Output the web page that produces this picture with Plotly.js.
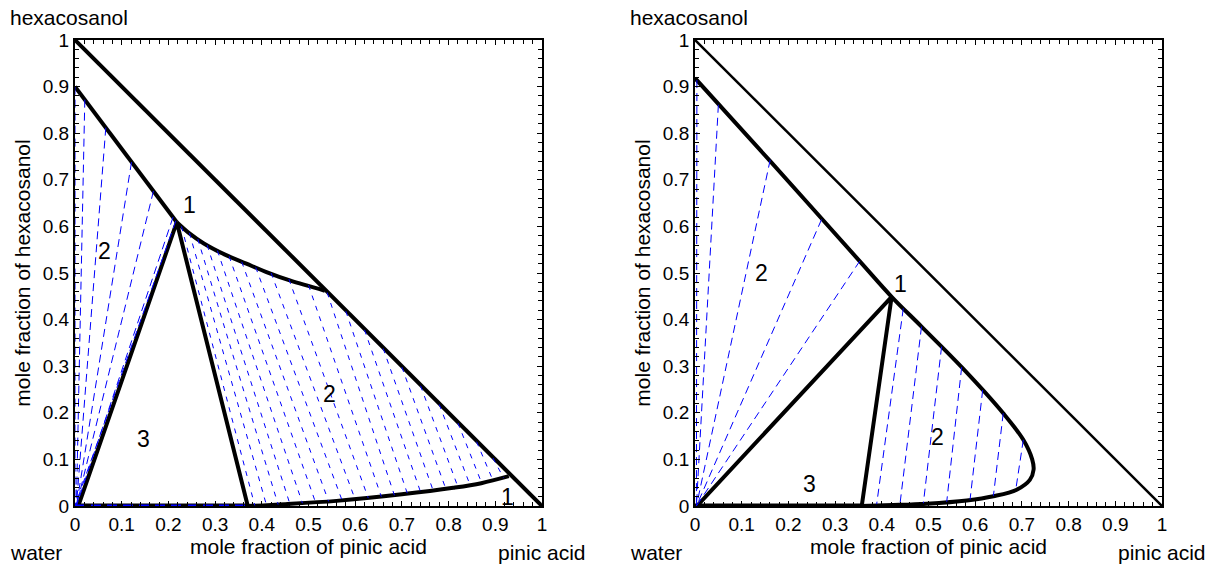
<!DOCTYPE html>
<html>
<head>
<meta charset="utf-8">
<script src="https://cdn.plot.ly/plotly-3.0.1.min.js"></script>
<style>html,body{margin:0;padding:0;background:#fff;}#chart{width:1215px;height:565px;}</style>
</head>
<body>
<div id="chart"></div>
<script>
// ---------------- data: left diagram ----------------
const L_hypX = [0, 1];
const L_hypY = [1, 0];
const L_upperBranchX = [0.0, 0.066, 0.121, 0.168, 0.218];
const L_upperBranchY = [0.900, 0.812, 0.738, 0.676, 0.609];
const L_topCurveX = [0.218, 0.245, 0.275, 0.320, 0.367, 0.410, 0.460, 0.535];
const L_topCurveY = [0.609, 0.585, 0.564, 0.540, 0.520, 0.502, 0.484, 0.462];
const L_triangleX = [0.007, 0.218, 0.370];
const L_triangleY = [0.000, 0.609, 0.000];
const L_baseX = [0.0, 0.370];
const L_baseY = [0.0, 0.0];
const L_bottomCurveX = [0.370, 0.450, 0.560, 0.700, 0.810, 0.870, 0.929];
const L_bottomCurveY = [0.000, 0.004, 0.011, 0.025, 0.039, 0.049, 0.064];
// tie lines, left two-phase fan
const L_fanTopX = [0.000, 0.021, 0.066, 0.121, 0.168, 0.210, 0.216];
const L_fanTopY = [0.900, 0.872, 0.812, 0.738, 0.676, 0.620, 0.612];
const L_fanBotX = [0.000, 0.003, 0.003, 0.003, 0.003, 0.003, 0.000];
const L_fanBotY = [0.000, 0.000, 0.000, 0.000, 0.000, 0.000, 0.000];
// tie lines, right two-phase region
const L_tieTopX = [0.228,0.245,0.263,0.283,0.305,0.330,0.357,0.387,0.420,0.458,0.500,0.540,0.580,0.620,0.660,0.700,0.740,0.780,0.820,0.860,0.895];
const L_tieTopY = [0.600,0.586,0.573,0.560,0.548,0.536,0.524,0.512,0.500,0.487,0.474,0.458,0.418,0.378,0.338,0.298,0.258,0.218,0.178,0.138,0.103];
const L_tieBotX = [0.385,0.410,0.435,0.460,0.487,0.515,0.543,0.572,0.600,0.628,0.656,0.684,0.712,0.740,0.767,0.794,0.820,0.846,0.871,0.895,0.918];
const L_tieBotY = [0.001,0.002,0.003,0.005,0.006,0.008,0.010,0.012,0.014,0.017,0.020,0.023,0.026,0.030,0.033,0.037,0.041,0.045,0.049,0.055,0.060];
const L_labels = ['1', '2', '3', '2', '1'];
const L_labelX = [0.246, 0.064, 0.146, 0.546, 0.927];
const L_labelY = [0.645, 0.548, 0.144, 0.241, 0.019];

// ---------------- data: right diagram ----------------
const R_hypX = [0, 1];
const R_hypY = [1, 0];
const R_boundaryX = [0.000, 0.161, 0.353, 0.421, 0.485, 0.571, 0.660, 0.703, 0.722, 0.725, 0.717, 0.689, 0.639, 0.582, 0.496, 0.424, 0.355];
const R_boundaryY = [0.918, 0.740, 0.525, 0.449, 0.385, 0.298, 0.199, 0.142, 0.100, 0.078, 0.056, 0.035, 0.021, 0.012, 0.005, 0.002, 0.000];
const R_triangleX = [0.004, 0.421, 0.357];
const R_triangleY = [0.000, 0.449, 0.000];
const R_baseX = [0.0, 0.357];
const R_baseY = [0.0, 0.0];
const R_fanTopX = [0.004, 0.050, 0.161, 0.271, 0.353];
const R_fanTopY = [0.914, 0.861, 0.743, 0.615, 0.526];
const R_fanBotX = [0.003, 0.003, 0.003, 0.003, 0.003];
const R_fanBotY = [0.000, 0.000, 0.000, 0.000, 0.000];
const R_tieTopX = [0.446, 0.485, 0.528, 0.571, 0.616, 0.660, 0.703];
const R_tieTopY = [0.424, 0.385, 0.342, 0.298, 0.249, 0.199, 0.142];
const R_tieBotX = [0.389, 0.439, 0.489, 0.539, 0.589, 0.639, 0.687];
const R_tieBotY = [0.004, 0.005, 0.006, 0.009, 0.014, 0.022, 0.036];
const R_labels = ['1', '2', '3', '2'];
const R_labelX = [0.441, 0.143, 0.246, 0.520];
const R_labelY = [0.476, 0.500, 0.047, 0.148];

const xTitle = 'mole fraction of pinic acid';
const yTitle = 'mole fraction of hexacosanol';
const cornerTop = 'hexacosanol';
const cornerLeft = 'water';
const cornerRight = 'pinic acid';

// ---------------- helpers ----------------
const FONT = 'Liberation Sans, Arial, Helvetica, sans-serif';
function segs(x0, y0, x1, y1) {
  const xs = [], ys = [];
  for (let i = 0; i < x0.length; i++) {
    xs.push(x0[i], x1[i], null);
    ys.push(y0[i], y1[i], null);
  }
  return {x: xs, y: ys};
}
function line(x, y, w, ax, smooth) {
  const ln = {color: '#000', width: w};
  if (smooth) { ln.shape = 'spline'; ln.smoothing = smooth; }
  return {x: x, y: y, type: 'scatter', mode: 'lines', hoverinfo: 'skip',
    line: ln, xaxis: ax[0], yaxis: ax[1], showlegend: false};
}
function dashed(s, w, dash, ax) {
  return {x: s.x, y: s.y, type: 'scatter', mode: 'lines', hoverinfo: 'skip', connectgaps: false,
    line: {color: '#0000ff', width: w, dash: dash}, xaxis: ax[0], yaxis: ax[1], showlegend: false};
}
const A1 = ['x', 'y'], A2 = ['x2', 'y2'];

const traces = [
  // left
  line(L_hypX, L_hypY, 4, A1),
  line(L_upperBranchX, L_upperBranchY, 4, A1),
  line(L_topCurveX, L_topCurveY, 4, A1, 1),
  line(L_triangleX, L_triangleY, 4, A1),
  line(L_baseX, L_baseY, 5, A1),
  line(L_bottomCurveX, L_bottomCurveY, 4, A1, 1),
  dashed(segs(L_fanTopX, L_fanTopY, L_fanBotX, L_fanBotY), 1, '8px,5px', A1),
  dashed(segs(L_tieTopX, L_tieTopY, L_tieBotX, L_tieBotY), 1, '5px,6px', A1),
  dashed({x: L_baseX, y: L_baseY}, 3, '10px,6px', A1),
  // right
  line(R_hypX, R_hypY, 2.5, A2),
  line(R_boundaryX, R_boundaryY, 4, A2, 1),
  line(R_triangleX, R_triangleY, 4, A2),
  line(R_baseX, R_baseY, 5, A2),
  dashed(segs(R_fanTopX, R_fanTopY, R_fanBotX, R_fanBotY), 1, '8px,5px', A2),
  dashed(segs(R_tieTopX, R_tieTopY, R_tieBotX, R_tieBotY), 1, '8px,5px', A2)
];

function xax(domain, anchor) {
  return {domain: domain, anchor: anchor, range: [0, 1], dtick: 0.1, tick0: 0,
    ticks: 'inside', ticklen: 5, tickwidth: 1, tickcolor: '#000',
    minor: {dtick: 0.02, ticks: 'inside', ticklen: 4, tickwidth: 1, tickcolor: '#000'},
    showline: true, linecolor: '#000', linewidth: 2, mirror: 'ticks', showgrid: false, zeroline: false,
    tickfont: {family: FONT, size: 19, color: '#000'},
    title: {text: xTitle, font: {family: FONT, size: 21, color: '#000'}, standoff: 2}};
}
function yax(domain, anchor) {
  return {domain: domain, anchor: anchor, range: [0, 1], dtick: 0.1, tick0: 0,
    ticks: 'inside', ticklen: 5, tickwidth: 1, tickcolor: '#000',
    minor: {dtick: 0.02, ticks: 'inside', ticklen: 4, tickwidth: 1, tickcolor: '#000'},
    showline: true, linecolor: '#000', linewidth: 2, mirror: 'ticks', showgrid: false, zeroline: false,
    tickfont: {family: FONT, size: 19, color: '#000'},
    title: {text: yTitle, font: {family: FONT, size: 21, color: '#000'}, standoff: 6}};
}

const annotations = [];
function regionLabels(txt, xs, ys, xr, yr) {
  for (let i = 0; i < txt.length; i++) {
    annotations.push({text: txt[i], x: xs[i], y: ys[i], xref: xr, yref: yr, showarrow: false,
      font: {family: FONT, size: 23, color: '#000'}, xanchor: 'center', yanchor: 'middle'});
  }
}
regionLabels(L_labels, L_labelX, L_labelY, 'x', 'y');
regionLabels(R_labels, R_labelX, R_labelY, 'x2', 'y2');
function corners(xr, yr) {
  const f = {family: FONT, size: 21, color: '#000'};
  annotations.push({text: cornerTop, x: -0.013, y: 1.049, xref: xr, yref: yr, showarrow: false, font: f, xanchor: 'center', yanchor: 'middle'});
  annotations.push({text: cornerLeft, x: -0.083, y: -0.099, xref: xr, yref: yr, showarrow: false, font: f, xanchor: 'center', yanchor: 'middle'});
  annotations.push({text: cornerRight, x: 1.0, y: -0.099, xref: xr, yref: yr, showarrow: false, font: f, xanchor: 'center', yanchor: 'middle'});
}
corners('x domain', 'y domain');
corners('x2 domain', 'y2 domain');

const layout = {
  width: 1215, height: 565,
  margin: {l: 75, r: 53, t: 40, b: 59, pad: 0},
  paper_bgcolor: '#fff', plot_bgcolor: '#fff',
  showlegend: false,
  xaxis: xax([0, 0.4296], 'y'),
  yaxis: yax([0, 1], 'x'),
  xaxis2: xax([0.5704, 1], 'y2'),
  yaxis2: yax([0, 1], 'x2'),
  annotations: annotations
};

Plotly.newPlot('chart', traces, layout, {displayModeBar: false, staticPlot: true});
</script>
</body>
</html>
